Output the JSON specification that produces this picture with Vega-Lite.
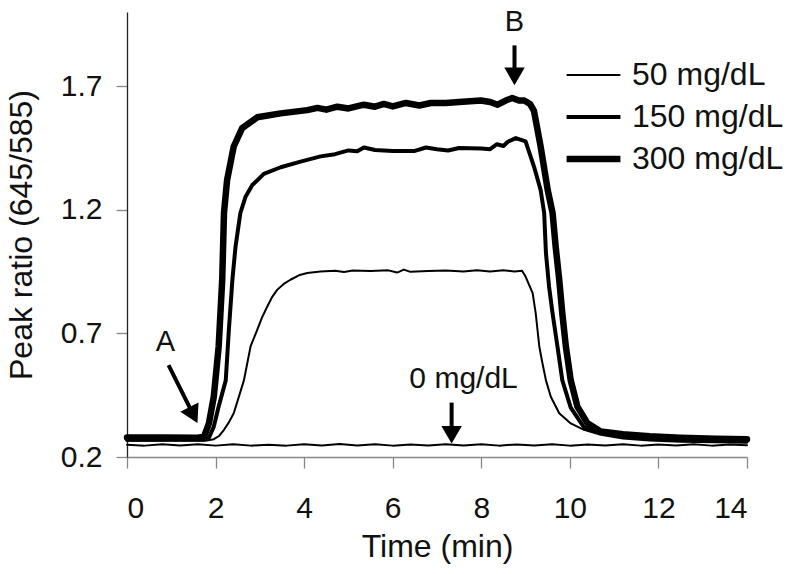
{
  "$schema": "https://vega.github.io/schema/vega-lite/v6.json",
  "autosize": {"type": "none"},
  "padding": {"left": 127, "top": 12, "right": 53, "bottom": 117},
  "width": 620,
  "height": 445,
  "background": "white",
  "config": {
    "view": {"stroke": null},
    "font": "Liberation Sans",
    "axis": {"grid": false, "labelFont": "Liberation Sans", "titleFont": "Liberation Sans", "labelColor": "#111", "titleColor": "#111", "labelFontSize": 30, "titleFontSize": 32, "titleFontWeight": "normal", "tickColor": "#888", "tickSize": 11, "tickWidth": 1.3}
  },
  "datasets": {
    "curves": [
      {"s": "0 mg/dL", "t": 0, "v": 0.25}, {"s": "0 mg/dL", "t": 0.4, "v": 0.246}, {"s": "0 mg/dL", "t": 0.8, "v": 0.252}, {"s": "0 mg/dL", "t": 1.2, "v": 0.247}, {"s": "0 mg/dL", "t": 1.6, "v": 0.252}, {"s": "0 mg/dL", "t": 2.0, "v": 0.246}, {"s": "0 mg/dL", "t": 2.4, "v": 0.252}, {"s": "0 mg/dL", "t": 2.8, "v": 0.246}, {"s": "0 mg/dL", "t": 3.2, "v": 0.25}, {"s": "0 mg/dL", "t": 3.6, "v": 0.246}, {"s": "0 mg/dL", "t": 4.0, "v": 0.252}, {"s": "0 mg/dL", "t": 4.4, "v": 0.247}, {"s": "0 mg/dL", "t": 4.8, "v": 0.253}, {"s": "0 mg/dL", "t": 5.2, "v": 0.247}, {"s": "0 mg/dL", "t": 5.6, "v": 0.252}, {"s": "0 mg/dL", "t": 6.0, "v": 0.246}, {"s": "0 mg/dL", "t": 6.4, "v": 0.251}, {"s": "0 mg/dL", "t": 6.8, "v": 0.247}, {"s": "0 mg/dL", "t": 7.2, "v": 0.252}, {"s": "0 mg/dL", "t": 7.6, "v": 0.247}, {"s": "0 mg/dL", "t": 8.0, "v": 0.252}, {"s": "0 mg/dL", "t": 8.4, "v": 0.246}, {"s": "0 mg/dL", "t": 8.8, "v": 0.251}, {"s": "0 mg/dL", "t": 9.2, "v": 0.247}, {"s": "0 mg/dL", "t": 9.6, "v": 0.252}, {"s": "0 mg/dL", "t": 10.0, "v": 0.246}, {"s": "0 mg/dL", "t": 10.4, "v": 0.251}, {"s": "0 mg/dL", "t": 10.8, "v": 0.247}, {"s": "0 mg/dL", "t": 11.2, "v": 0.252}, {"s": "0 mg/dL", "t": 11.6, "v": 0.246}, {"s": "0 mg/dL", "t": 12.0, "v": 0.251}, {"s": "0 mg/dL", "t": 12.4, "v": 0.247}, {"s": "0 mg/dL", "t": 12.8, "v": 0.252}, {"s": "0 mg/dL", "t": 13.2, "v": 0.246}, {"s": "0 mg/dL", "t": 13.6, "v": 0.251}, {"s": "0 mg/dL", "t": 14.0, "v": 0.248},

      {"s": "50 mg/dL", "t": 0, "v": 0.266}, {"s": "50 mg/dL", "t": 1.0, "v": 0.267}, {"s": "50 mg/dL", "t": 1.8, "v": 0.267}, {"s": "50 mg/dL", "t": 1.96, "v": 0.272}, {"s": "50 mg/dL", "t": 2.08, "v": 0.285}, {"s": "50 mg/dL", "t": 2.19, "v": 0.31}, {"s": "50 mg/dL", "t": 2.3, "v": 0.34}, {"s": "50 mg/dL", "t": 2.41, "v": 0.377}, {"s": "50 mg/dL", "t": 2.52, "v": 0.44}, {"s": "50 mg/dL", "t": 2.64, "v": 0.51}, {"s": "50 mg/dL", "t": 2.79, "v": 0.647}, {"s": "50 mg/dL", "t": 2.94, "v": 0.714}, {"s": "50 mg/dL", "t": 3.05, "v": 0.765}, {"s": "50 mg/dL", "t": 3.17, "v": 0.81}, {"s": "50 mg/dL", "t": 3.28, "v": 0.848}, {"s": "50 mg/dL", "t": 3.39, "v": 0.876}, {"s": "50 mg/dL", "t": 3.54, "v": 0.9}, {"s": "50 mg/dL", "t": 3.69, "v": 0.917}, {"s": "50 mg/dL", "t": 3.88, "v": 0.935}, {"s": "50 mg/dL", "t": 4.07, "v": 0.944}, {"s": "50 mg/dL", "t": 4.37, "v": 0.95}, {"s": "50 mg/dL", "t": 4.7, "v": 0.953}, {"s": "50 mg/dL", "t": 4.9, "v": 0.948}, {"s": "50 mg/dL", "t": 5.1, "v": 0.954}, {"s": "50 mg/dL", "t": 5.5, "v": 0.952}, {"s": "50 mg/dL", "t": 5.9, "v": 0.955}, {"s": "50 mg/dL", "t": 6.1, "v": 0.946}, {"s": "50 mg/dL", "t": 6.25, "v": 0.958}, {"s": "50 mg/dL", "t": 6.4, "v": 0.949}, {"s": "50 mg/dL", "t": 6.8, "v": 0.952}, {"s": "50 mg/dL", "t": 7.2, "v": 0.954}, {"s": "50 mg/dL", "t": 7.6, "v": 0.95}, {"s": "50 mg/dL", "t": 7.9, "v": 0.955}, {"s": "50 mg/dL", "t": 8.2, "v": 0.95}, {"s": "50 mg/dL", "t": 8.5, "v": 0.955}, {"s": "50 mg/dL", "t": 8.75, "v": 0.95}, {"s": "50 mg/dL", "t": 8.92, "v": 0.953}, {"s": "50 mg/dL", "t": 9.0, "v": 0.93}, {"s": "50 mg/dL", "t": 9.16, "v": 0.863}, {"s": "50 mg/dL", "t": 9.23, "v": 0.78}, {"s": "50 mg/dL", "t": 9.31, "v": 0.647}, {"s": "50 mg/dL", "t": 9.38, "v": 0.58}, {"s": "50 mg/dL", "t": 9.46, "v": 0.51}, {"s": "50 mg/dL", "t": 9.57, "v": 0.444}, {"s": "50 mg/dL", "t": 9.76, "v": 0.377}, {"s": "50 mg/dL", "t": 10.02, "v": 0.336}, {"s": "50 mg/dL", "t": 10.32, "v": 0.31}, {"s": "50 mg/dL", "t": 10.7, "v": 0.29}, {"s": "50 mg/dL", "t": 11.2, "v": 0.275}, {"s": "50 mg/dL", "t": 11.8, "v": 0.267}, {"s": "50 mg/dL", "t": 12.5, "v": 0.262}, {"s": "50 mg/dL", "t": 13.3, "v": 0.26}, {"s": "50 mg/dL", "t": 14.0, "v": 0.258},

      {"s": "150 mg/dL", "t": 0, "v": 0.27}, {"s": "150 mg/dL", "t": 1.0, "v": 0.27}, {"s": "150 mg/dL", "t": 1.75, "v": 0.27}, {"s": "150 mg/dL", "t": 1.85, "v": 0.278}, {"s": "150 mg/dL", "t": 1.96, "v": 0.323}, {"s": "150 mg/dL", "t": 2.07, "v": 0.404}, {"s": "150 mg/dL", "t": 2.23, "v": 0.51}, {"s": "150 mg/dL", "t": 2.3, "v": 0.714}, {"s": "150 mg/dL", "t": 2.38, "v": 0.917}, {"s": "150 mg/dL", "t": 2.45, "v": 1.05}, {"s": "150 mg/dL", "t": 2.56, "v": 1.187}, {"s": "150 mg/dL", "t": 2.68, "v": 1.254}, {"s": "150 mg/dL", "t": 2.83, "v": 1.3}, {"s": "150 mg/dL", "t": 3.09, "v": 1.345}, {"s": "150 mg/dL", "t": 3.47, "v": 1.372}, {"s": "150 mg/dL", "t": 3.92, "v": 1.395}, {"s": "150 mg/dL", "t": 4.37, "v": 1.416}, {"s": "150 mg/dL", "t": 4.7, "v": 1.425}, {"s": "150 mg/dL", "t": 5.0, "v": 1.44}, {"s": "150 mg/dL", "t": 5.2, "v": 1.437}, {"s": "150 mg/dL", "t": 5.35, "v": 1.452}, {"s": "150 mg/dL", "t": 5.6, "v": 1.442}, {"s": "150 mg/dL", "t": 6.0, "v": 1.438}, {"s": "150 mg/dL", "t": 6.5, "v": 1.438}, {"s": "150 mg/dL", "t": 6.75, "v": 1.452}, {"s": "150 mg/dL", "t": 7.0, "v": 1.445}, {"s": "150 mg/dL", "t": 7.25, "v": 1.44}, {"s": "150 mg/dL", "t": 7.5, "v": 1.45}, {"s": "150 mg/dL", "t": 8.0, "v": 1.448}, {"s": "150 mg/dL", "t": 8.2, "v": 1.445}, {"s": "150 mg/dL", "t": 8.35, "v": 1.465}, {"s": "150 mg/dL", "t": 8.5, "v": 1.458}, {"s": "150 mg/dL", "t": 8.6, "v": 1.475}, {"s": "150 mg/dL", "t": 8.78, "v": 1.49}, {"s": "150 mg/dL", "t": 9.0, "v": 1.477}, {"s": "150 mg/dL", "t": 9.19, "v": 1.375}, {"s": "150 mg/dL", "t": 9.34, "v": 1.28}, {"s": "150 mg/dL", "t": 9.42, "v": 1.187}, {"s": "150 mg/dL", "t": 9.46, "v": 1.025}, {"s": "150 mg/dL", "t": 9.53, "v": 0.89}, {"s": "150 mg/dL", "t": 9.61, "v": 0.78}, {"s": "150 mg/dL", "t": 9.72, "v": 0.647}, {"s": "150 mg/dL", "t": 9.83, "v": 0.51}, {"s": "150 mg/dL", "t": 10.02, "v": 0.4}, {"s": "150 mg/dL", "t": 10.32, "v": 0.32}, {"s": "150 mg/dL", "t": 10.7, "v": 0.298}, {"s": "150 mg/dL", "t": 11.2, "v": 0.285}, {"s": "150 mg/dL", "t": 11.8, "v": 0.276}, {"s": "150 mg/dL", "t": 12.5, "v": 0.27}, {"s": "150 mg/dL", "t": 13.3, "v": 0.266}, {"s": "150 mg/dL", "t": 14.0, "v": 0.265},

      {"s": "300 mg/dL", "t": 0, "v": 0.279}, {"s": "300 mg/dL", "t": 0.8, "v": 0.279}, {"s": "300 mg/dL", "t": 1.6, "v": 0.278}, {"s": "300 mg/dL", "t": 1.74, "v": 0.282}, {"s": "300 mg/dL", "t": 1.85, "v": 0.336}, {"s": "300 mg/dL", "t": 1.96, "v": 0.444}, {"s": "300 mg/dL", "t": 2.07, "v": 0.647}, {"s": "300 mg/dL", "t": 2.15, "v": 0.917}, {"s": "300 mg/dL", "t": 2.19, "v": 1.187}, {"s": "300 mg/dL", "t": 2.26, "v": 1.32}, {"s": "300 mg/dL", "t": 2.41, "v": 1.456}, {"s": "300 mg/dL", "t": 2.6, "v": 1.53}, {"s": "300 mg/dL", "t": 2.94, "v": 1.574}, {"s": "300 mg/dL", "t": 3.47, "v": 1.59}, {"s": "300 mg/dL", "t": 4.07, "v": 1.603}, {"s": "300 mg/dL", "t": 4.3, "v": 1.612}, {"s": "300 mg/dL", "t": 4.5, "v": 1.605}, {"s": "300 mg/dL", "t": 4.75, "v": 1.617}, {"s": "300 mg/dL", "t": 5.0, "v": 1.61}, {"s": "300 mg/dL", "t": 5.35, "v": 1.625}, {"s": "300 mg/dL", "t": 5.6, "v": 1.617}, {"s": "300 mg/dL", "t": 5.8, "v": 1.628}, {"s": "300 mg/dL", "t": 6.0, "v": 1.618}, {"s": "300 mg/dL", "t": 6.3, "v": 1.632}, {"s": "300 mg/dL", "t": 6.6, "v": 1.622}, {"s": "300 mg/dL", "t": 6.86, "v": 1.632}, {"s": "300 mg/dL", "t": 7.2, "v": 1.632}, {"s": "300 mg/dL", "t": 7.5, "v": 1.636}, {"s": "300 mg/dL", "t": 7.99, "v": 1.642}, {"s": "300 mg/dL", "t": 8.2, "v": 1.636}, {"s": "300 mg/dL", "t": 8.37, "v": 1.625}, {"s": "300 mg/dL", "t": 8.55, "v": 1.642}, {"s": "300 mg/dL", "t": 8.7, "v": 1.652}, {"s": "300 mg/dL", "t": 8.85, "v": 1.642}, {"s": "300 mg/dL", "t": 8.97, "v": 1.642}, {"s": "300 mg/dL", "t": 9.1, "v": 1.628}, {"s": "300 mg/dL", "t": 9.19, "v": 1.6}, {"s": "300 mg/dL", "t": 9.34, "v": 1.456}, {"s": "300 mg/dL", "t": 9.5, "v": 1.28}, {"s": "300 mg/dL", "t": 9.61, "v": 1.187}, {"s": "300 mg/dL", "t": 9.68, "v": 1.05}, {"s": "300 mg/dL", "t": 9.76, "v": 0.917}, {"s": "300 mg/dL", "t": 9.83, "v": 0.78}, {"s": "300 mg/dL", "t": 9.91, "v": 0.647}, {"s": "300 mg/dL", "t": 10.02, "v": 0.51}, {"s": "300 mg/dL", "t": 10.17, "v": 0.404}, {"s": "300 mg/dL", "t": 10.4, "v": 0.336}, {"s": "300 mg/dL", "t": 10.7, "v": 0.303}, {"s": "300 mg/dL", "t": 11.2, "v": 0.292}, {"s": "300 mg/dL", "t": 11.8, "v": 0.284}, {"s": "300 mg/dL", "t": 12.5, "v": 0.278}, {"s": "300 mg/dL", "t": 13.3, "v": 0.274}, {"s": "300 mg/dL", "t": 14.0, "v": 0.272}
    ],
    "labels": [
      {"label": "A", "t": 0.87, "v": 0.666, "size": "big"},
      {"label": "B", "t": 8.75, "v": 1.96, "size": "big"},
      {"label": "0 mg/dL", "t": 7.6, "v": 0.516, "size": "small"}
    ],
    "arrows": [
      {"name": "A", "t": 0.938, "v": 0.572, "t2": 1.5, "v2": 0.37},
      {"name": "B", "t": 8.75, "v": 1.865, "t2": 8.75, "v2": 1.74},
      {"name": "0", "t": 7.33, "v": 0.42, "t2": 7.33, "v2": 0.29}
    ]
  },
  "layer": [
    {
      "data": {"name": "curves"},
      "mark": {"type": "line", "color": "black", "strokeJoin": "round", "strokeCap": "round"},
      "encoding": {
        "x": {"field": "t", "type": "quantitative", "scale": {"domain": [0, 14]}, "axis": {"title": "Time (min)", "values": [0, 2, 4, 6, 8, 10, 12, 14], "domainColor": "#888", "domainWidth": 1.3, "labelPadding": 25, "titlePadding": 8}},
        "y": {"field": "v", "type": "quantitative", "scale": {"domain": [0.2, 2.0]}, "axis": {"title": "Peak ratio (645/585)", "values": [0.2, 0.7, 1.2, 1.7], "format": ".1f", "domainColor": "#222", "domainWidth": 1.3, "labelPadding": 14, "titlePadding": 22}},
        "detail": {"field": "s"},
        "strokeWidth": {
          "field": "s", "type": "ordinal",
          "scale": {"type": "ordinal", "domain": ["0 mg/dL", "50 mg/dL", "150 mg/dL", "300 mg/dL"], "range": [2, 2, 4, 6.5]},
          "legend": {"values": ["50 mg/dL", "150 mg/dL", "300 mg/dL"], "title": null, "orient": "none", "legendX": 436, "legendY": 42, "symbolType": "stroke", "symbolSize": 2900, "symbolStrokeColor": "black", "labelFontSize": 32, "labelFont": "Liberation Sans", "labelColor": "#111", "labelOffset": 8, "clipHeight": 42, "rowPadding": 0}
        }
      }
    },
    {
      "data": {"name": "arrows"},
      "mark": {"type": "rule", "color": "black", "strokeWidth": 4},
      "encoding": {
        "x": {"field": "t", "type": "quantitative"},
        "y": {"field": "v", "type": "quantitative"},
        "x2": {"field": "t2"},
        "y2": {"field": "v2"}
      }
    },
    {
      "data": {"name": "arrows"},
      "transform": [{"filter": "datum.name != 'A'"}],
      "mark": {"type": "point", "shape": "triangle-down", "filled": true, "color": "black", "size": 420, "opacity": 1},
      "encoding": {
        "x": {"field": "t2", "type": "quantitative"},
        "y": {"field": "v2", "type": "quantitative"}
      }
    },
    {
      "data": {"name": "arrows"},
      "transform": [{"filter": "datum.name == 'A'"}],
      "mark": {"type": "point", "shape": "triangle-down", "filled": true, "color": "black", "size": 420, "opacity": 1, "angle": 333},
      "encoding": {
        "x": {"field": "t2", "type": "quantitative"},
        "y": {"field": "v2", "type": "quantitative"}
      }
    },
    {
      "data": {"name": "labels"},
      "transform": [{"filter": "datum.size == 'big'"}],
      "mark": {"type": "text", "fontSize": 29, "font": "Liberation Sans", "color": "#111", "align": "center", "baseline": "middle"},
      "encoding": {
        "x": {"field": "t", "type": "quantitative"},
        "y": {"field": "v", "type": "quantitative"},
        "text": {"field": "label"}
      }
    },
    {
      "data": {"name": "labels"},
      "transform": [{"filter": "datum.size == 'small'"}],
      "mark": {"type": "text", "fontSize": 30, "font": "Liberation Sans", "color": "#111", "align": "center", "baseline": "middle"},
      "encoding": {
        "x": {"field": "t", "type": "quantitative"},
        "y": {"field": "v", "type": "quantitative"},
        "text": {"field": "label"}
      }
    }
  ]
}
